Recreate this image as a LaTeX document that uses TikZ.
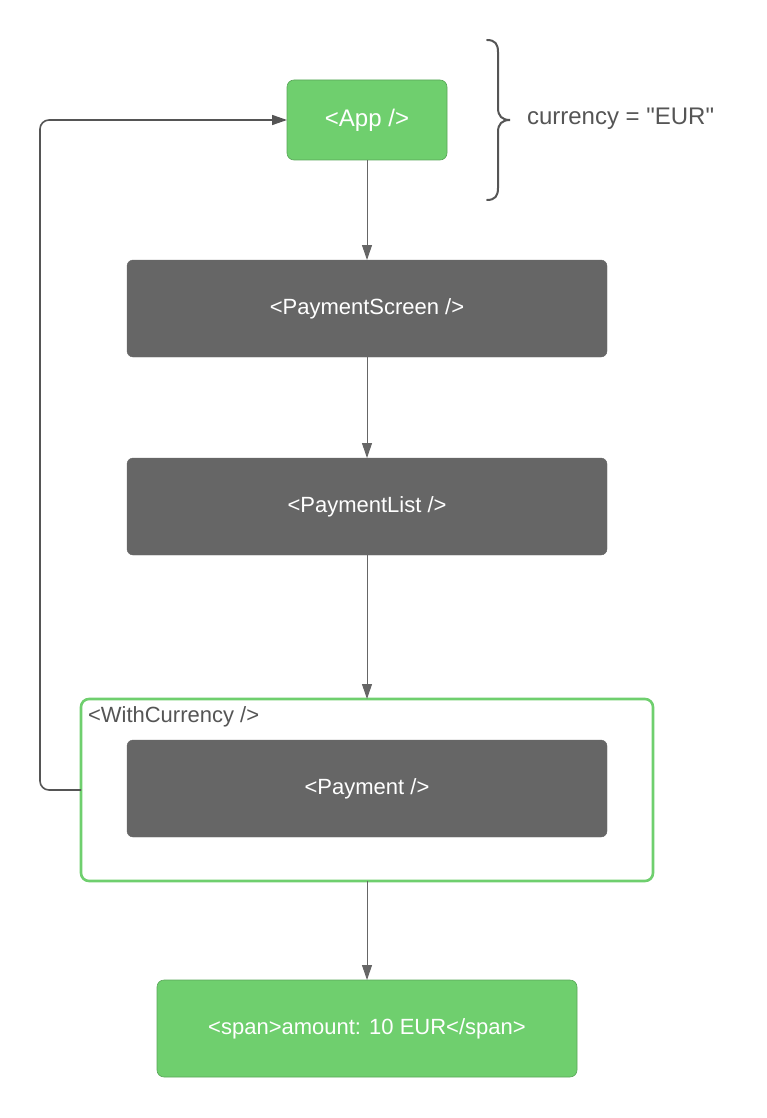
\documentclass[tikz,border=0pt]{standalone}
\usepackage{fontspec}
\setmainfont{Liberation Sans}[Ligatures=TeXOff]
\usetikzlibrary{arrows.meta}
\definecolor{leaf}{HTML}{6FCF6E}
\definecolor{slate}{HTML}{666666}
\definecolor{ink}{HTML}{555555}
\begin{document}
\begin{tikzpicture}[x=1pt,y=-1pt,
  every node/.style={inner sep=0pt, outer sep=0pt},
  label22/.style={font=\fontsize{22}{26}\selectfont},
  label24/.style={font=\fontsize{24}{28}\selectfont},
  greenbox/.style={draw=leaf!80!black, line width=0.6pt, fill=leaf, rounded corners=7pt,
    text=white, label22},
  darkbox/.style={draw=slate, fill=slate, rounded corners=6pt,
    text=white, label22},
  flow/.style={draw=slate, line width=1pt, -{Triangle[length=15pt,width=10pt]}},
  loop/.style={draw=ink, line width=1.6pt, rounded corners=9pt, -{Triangle[length=15pt,width=10pt]}}
]
\useasboundingbox (0,0) rectangle (767,1118);

% wrapper component around Payment
\node[draw=leaf, line width=2.6pt, fill=white, rounded corners=8pt,
      minimum width=572pt, minimum height=182pt] (wrap) at (367,790) {};
\node[anchor=north west, text=ink, label22] (wraplabel)
      at (88,707) {<WithCurrency />};

\node[greenbox, label24, minimum width=160pt, minimum height=80pt] (app) at (367,120) {<App />};
\node[darkbox, minimum width=480pt, minimum height=97pt] (screen) at (367,308.5) {<PaymentScreen />};
\node[darkbox, minimum width=480pt, minimum height=97pt] (list) at (367,506.5) {<PaymentList />};
\node[darkbox, minimum width=480pt, minimum height=97pt] (pay) at (367,788.5) {<Payment />};
\node[greenbox, minimum width=420pt, minimum height=97pt] (span) at (367,1028.5) {<span>amount: 10 EUR</span>};

% curly brace: straight spine with short curls at the ends and the tip
\coordinate (btop) at (487,40);
\coordinate (btip) at (510,120);
\coordinate (bbot) at (487,200);
\draw[ink, line width=2pt, line cap=round]
  (btop) .. controls (495,40) and (498,44) .. (498,52)
  -- (498,108) .. controls (498,116) and (502,120) .. (btip)
  .. controls (502,120) and (498,124) .. (498,132)
  -- (498,188) .. controls (498,196) and (495,200) .. (bbot);
\node[anchor=west, text=ink, label24] (cur) at (527,119) {currency = "EUR"};

% render flow
\draw[flow] (app.south) -- (screen.north);
\draw[flow] (screen.south) -- (list.north);
\draw[flow] (list.south) -- (wrap.north);
\draw[flow] (wrap.south) -- (span.north);

% context read back to the provider
\coordinate (bl) at (40,790);
\coordinate (tl) at (40,120);
\draw[loop] (wrap.west) -- (bl) -- (tl) -- (app.west);
\end{tikzpicture}
\end{document}
